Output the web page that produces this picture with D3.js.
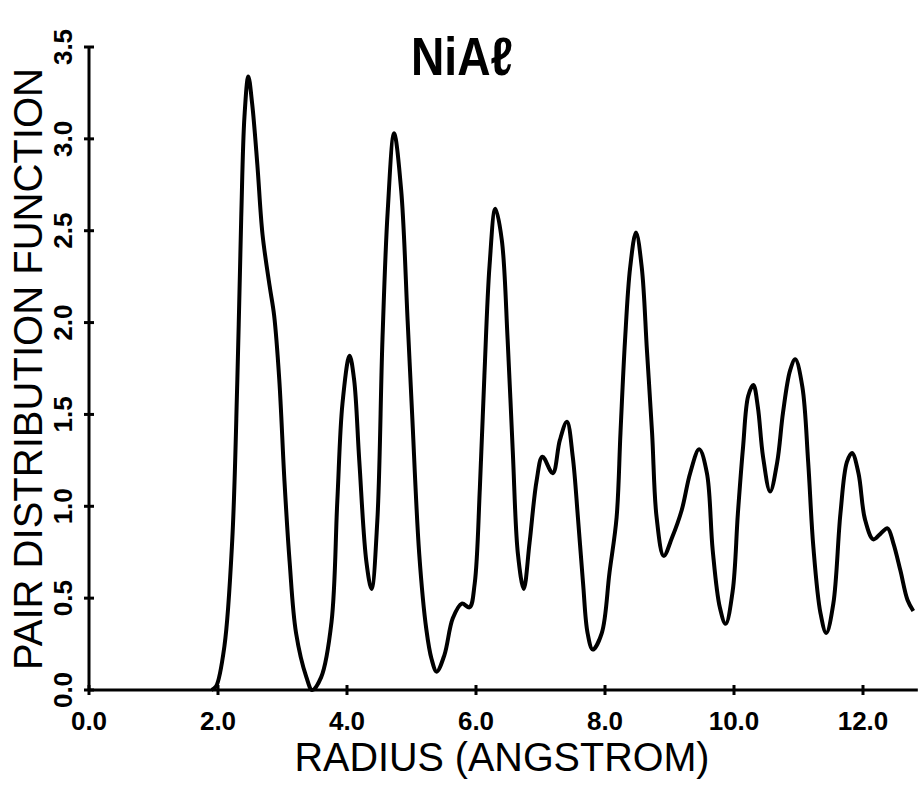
<!DOCTYPE html>
<html>
<head>
<meta charset="utf-8">
<script src="https://cdn.jsdelivr.net/npm/d3@7"></script>
<style>
 body { margin: 0; background: #fff; }
 text { font-family: "Liberation Sans", Arial, Helvetica, sans-serif; fill: #000; }
</style>
</head>
<body>
<svg id="chart" width="920" height="788"></svg>
<script>
// radius values (angstrom)
var radius = [1.90, 1.97, 2.10, 2.22, 2.30, 2.36, 2.41, 2.47, 2.53, 2.61, 2.69, 2.80, 2.87, 2.95,
 3.03, 3.11, 3.21, 3.37, 3.46, 3.60, 3.76, 3.85, 3.93, 4.04, 4.11, 4.19, 4.30, 4.38, 4.47,
 4.55, 4.63, 4.73, 4.84, 4.94, 5.01, 5.12, 5.23, 5.31, 5.39, 5.51, 5.64, 5.78, 5.90, 5.98,
 6.06, 6.13, 6.21, 6.30, 6.40, 6.49, 6.57, 6.65, 6.74, 6.83, 6.94, 7.03, 7.19, 7.30, 7.41,
 7.50, 7.58, 7.66, 7.73, 7.81, 7.95, 8.07, 8.18, 8.24, 8.31, 8.39, 8.48, 8.57, 8.65, 8.73,
 8.80, 8.91, 9.04, 9.19, 9.32, 9.46, 9.58, 9.67, 9.78, 9.87, 9.98, 10.06, 10.14, 10.22,
 10.30, 10.37, 10.45, 10.56, 10.67, 10.76, 10.87, 10.95, 11.06, 11.15, 11.23, 11.34, 11.43,
 11.54, 11.65, 11.75, 11.83, 11.93, 12.03, 12.16, 12.27, 12.38, 12.47, 12.58, 12.69, 12.78];

// pair distribution function g(r)
var pdf = [0.00, 0.02, 0.24, 0.81, 1.69, 2.57, 3.12, 3.34, 3.19, 2.86, 2.48, 2.20, 2.04, 1.69,
 1.14, 0.70, 0.31, 0.07, 0.00, 0.07, 0.37, 1.03, 1.56, 1.82, 1.69, 1.25, 0.70, 0.55, 0.92,
 1.91, 2.60, 3.03, 2.72, 2.01, 1.50, 0.74, 0.33, 0.17, 0.10, 0.19, 0.39, 0.47, 0.45, 0.58,
 1.10, 1.71, 2.31, 2.62, 2.45, 1.91, 1.30, 0.74, 0.55, 0.80, 1.14, 1.27, 1.18, 1.36, 1.46,
 1.27, 0.94, 0.58, 0.31, 0.22, 0.31, 0.64, 0.94, 1.40, 1.90, 2.30, 2.49, 2.30, 1.85, 1.40,
 0.94, 0.73, 0.83, 0.98, 1.18, 1.31, 1.18, 0.76, 0.45, 0.36, 0.54, 0.96, 1.32, 1.60,
 1.66, 1.54, 1.27, 1.08, 1.24, 1.51, 1.74, 1.80, 1.65, 1.24, 0.78, 0.42, 0.31,
 0.47, 0.96, 1.24, 1.29, 1.18, 0.93, 0.82, 0.85, 0.88, 0.80, 0.65, 0.49, 0.43];

var xTicks = [0, 2, 4, 6, 8, 10, 12];
var yTicks = [0, 0.5, 1.0, 1.5, 2.0, 2.5, 3.0, 3.5];

var svg = d3.select('#chart');

// plot frame: origin at (89, 690)
var x = d3.scaleLinear().domain([0, 12]).range([89, 863]);
var y = d3.scaleLinear().domain([0, 3.5]).range([690, 47]);
var xEnd = 12.85;

// title
svg.append('text')
 .attr('x', 462).attr('y', 75)
 .attr('text-anchor', 'middle')
 .attr('font-size', 54)
 .attr('font-weight', 'bold')
 .attr('textLength', 102)
 .attr('lengthAdjust', 'spacingAndGlyphs')
 .text('NiAℓ');

// x axis
var xAxis = svg.append('g').attr('transform', 'translate(0,690)');
xAxis.append('line')
 .attr('x1', x(0)).attr('x2', x(xEnd))
 .style('stroke', '#000').style('stroke-width', '3px');
xAxis.selectAll('.xt').data(xTicks).enter().append('line')
 .attr('x1', function(d){ return x(d); }).attr('x2', function(d){ return x(d); })
 .attr('y1', -5).attr('y2', 5)
 .style('stroke', '#000').style('stroke-width', '3px');
xAxis.selectAll('.xl').data(xTicks).enter().append('text')
 .attr('x', function(d){ return x(d); })
 .attr('y', 40)
 .attr('text-anchor', 'middle')
 .attr('font-size', 26)
 .attr('font-weight', 'bold')
 .text(function(d){ return d3.format('.1f')(d); });

// y axis
var yAxis = svg.append('g').attr('transform', 'translate(' + x(0) + ',0)');
yAxis.append('line')
 .attr('y1', y(0)).attr('y2', y(3.5))
 .style('stroke', '#000').style('stroke-width', '3px');
yAxis.selectAll('.yt').data(yTicks).enter().append('line')
 .attr('x1', -5).attr('x2', 5)
 .attr('y1', function(d){ return y(d); }).attr('y2', function(d){ return y(d); })
 .style('stroke', '#000').style('stroke-width', '3px');
yAxis.selectAll('.yl').data(yTicks).enter().append('text')
 .attr('transform', function(d){ return 'translate(-17,' + y(d) + ') rotate(-90)'; })
 .attr('text-anchor', 'middle')
 .attr('font-size', 26)
 .attr('font-weight', 'bold')
 .text(function(d){ return d3.format('.1f')(d); });

// axis titles
svg.append('text')
 .attr('x', 502).attr('y', 771)
 .attr('text-anchor', 'middle')
 .attr('font-size', 41)
 .attr('textLength', 415)
 .attr('lengthAdjust', 'spacingAndGlyphs')
 .text('RADIUS  (ANGSTROM)');

svg.append('text')
 .attr('transform', 'translate(42,369) rotate(-90)')
 .attr('text-anchor', 'middle')
 .attr('font-size', 40)
 .attr('textLength', 602)
 .attr('lengthAdjust', 'spacingAndGlyphs')
 .text('PAIR  DISTRIBUTION  FUNCTION');

// the g(r) trace
var points = radius.map(function(r, i){ return [r, pdf[i]]; });
var line = d3.line()
 .x(function(d){ return x(d[0]); })
 .y(function(d){ return y(d[1]); })
 .curve(d3.curveCatmullRom.alpha(0.5));

svg.append('path')
 .datum(points)
 .attr('d', line)
 .style('fill', 'none')
 .style('stroke', '#000')
 .style('stroke-width', '4px')
 .style('stroke-linejoin', 'round');
</script>
</body>
</html>
